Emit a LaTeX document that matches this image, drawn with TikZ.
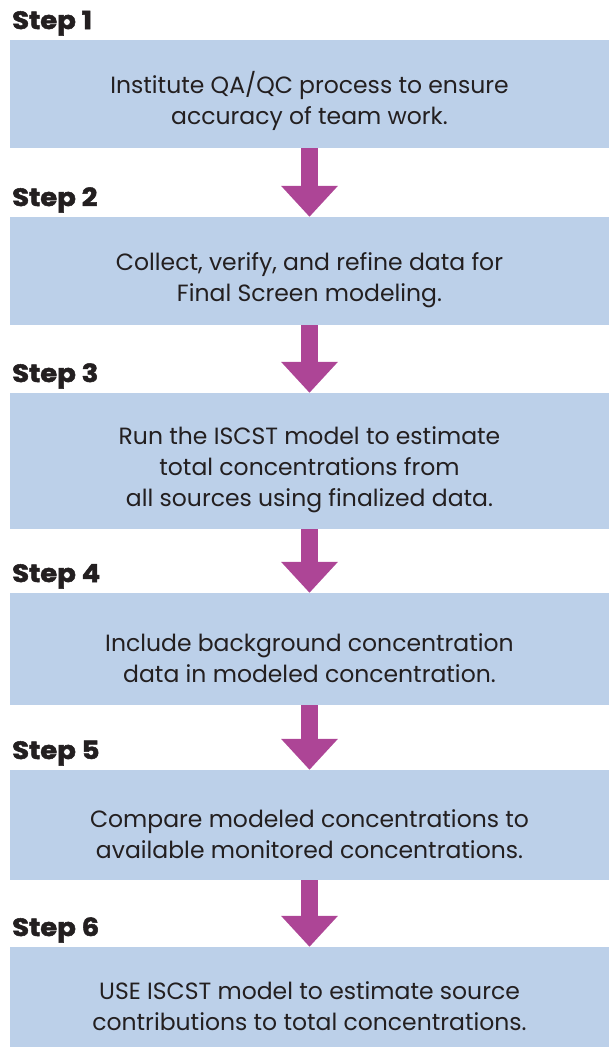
\documentclass[tikz,border=0pt]{standalone}
\usepackage{fontspec}
\setmainfont{Poppins}
\newfontfamily\stepfont{Poppins}[BoldFeatures={FakeBold=2,FakeStretch=1.1}]
\usetikzlibrary{arrows.meta}
\definecolor{boxblue}{HTML}{BCD0E9}
\definecolor{arrowmag}{HTML}{AD4596}
\definecolor{txt}{HTML}{231F20}
\newcommand{\toppad}{\rule{0pt}{36pt}}
\tikzset{
  stepbox/.style={fill=boxblue, draw=none, minimum width=599pt, inner sep=0pt, align=center,
    text=txt, font=\fontsize{23.5}{31}\selectfont},
  steplabel/.style={anchor=base west, inner sep=0pt, text=txt, font=\stepfont\fontsize{25}{28}\selectfont\bfseries},
  flow/.style={arrowmag, line width=17pt, -{Triangle[width=55pt,length=31pt]}}
}
\begin{document}
\begin{tikzpicture}[x=1pt,y=-1pt]
\useasboundingbox (0,0) rectangle (609,1050);
\node[stepbox, minimum height=108pt] (b1) at (309.5,94) {\toppad Institute QA/QC process to ensure\\accuracy of team work.};
\node[stepbox, minimum height=108pt] (b2) at (309.5,271) {\toppad Collect, verify, and refine data for\\Final Screen modeling.};
\node[stepbox, minimum height=136pt] (b3) at (309.5,461) {\toppad Run the ISCST model to estimate\\total concentrations from\\all sources using finalized data.};
\node[stepbox, minimum height=112pt] (b4) at (309.5,649) {\toppad Include background concentration\\data in modeled concentration.};
\node[stepbox, minimum height=110pt] (b5) at (309.5,825) {\toppad Compare modeled concentrations to\\available monitored concentrations.};
\node[stepbox, minimum height=100pt] (b6) at (309.5,997) {\toppad USE ISCST model to estimate source\\contributions to total concentrations.};
\node[steplabel] (s1) at (12,29) {Step 1};
\node[steplabel] (s2) at (12,206) {Step 2};
\node[steplabel] (s3) at (12,382) {Step 3};
\node[steplabel] (s4) at (12,582) {Step 4};
\node[steplabel] (s5) at (12,759) {Step 5};
\node[steplabel] (s6) at (12,936) {Step 6};
\foreach \a/\b in {b1/b2,b2/b3,b3/b4,b4/b5,b5/b6}
  \draw[flow] (\a.south) -- (\b.north);
\end{tikzpicture}
\end{document}
